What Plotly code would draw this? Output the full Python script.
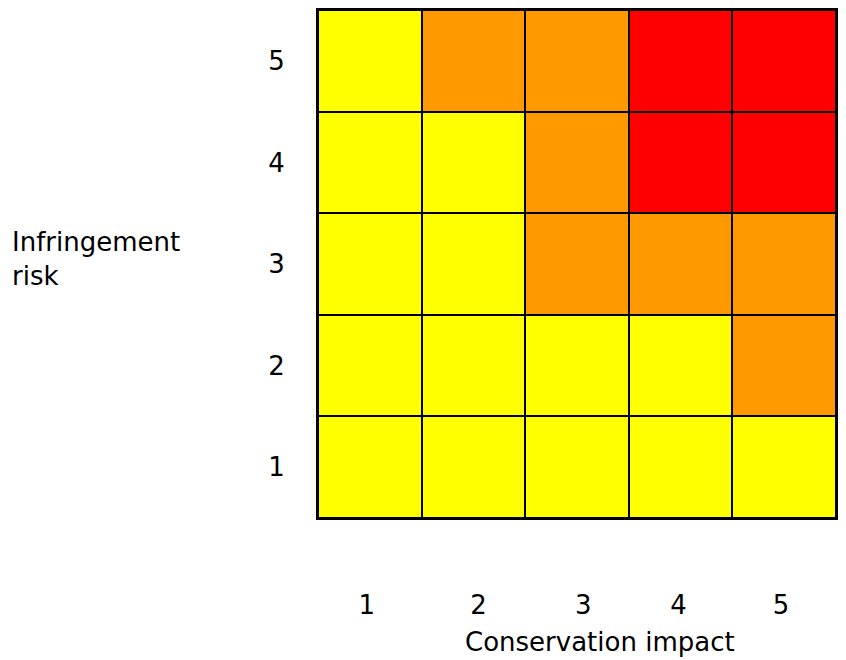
import plotly.graph_objects as go

impact_labels = ["1", "2", "3", "4", "5"]
risk_labels = ["1", "2", "3", "4", "5"]
# risk level per cell: 1 = low (yellow), 2 = medium (orange), 3 = high (red)
# rows: infringement risk 1..5 (bottom to top); columns: conservation impact 1..5
levels = [
    [1, 1, 1, 1, 1],
    [1, 1, 1, 1, 2],
    [1, 1, 2, 2, 2],
    [1, 1, 2, 3, 3],
    [1, 2, 2, 3, 3],
]
level_colors = ["#FFFF00", "#FF9900", "#FF0000"]

x_title = "Conservation impact"
y_title = "Infringement<br>risk"

FONT = "DejaVu Sans"
FS = 26

colorscale = [
    [0.0, level_colors[0]], [1/3, level_colors[0]],
    [1/3, level_colors[1]], [2/3, level_colors[1]],
    [2/3, level_colors[2]], [1.0, level_colors[2]],
]

fig = go.Figure(go.Heatmap(
    z=levels,
    x=[1, 2, 3, 4, 5],
    y=[1, 2, 3, 4, 5],
    zmin=0.5, zmax=3.5,
    colorscale=colorscale,
    showscale=False,
    xgap=2, ygap=2,
    hoverinfo="skip",
))

fig.update_layout(
    width=830, height=652,
    margin=dict(l=310, r=2, t=0, b=142),
    paper_bgcolor="white",
    plot_bgcolor="black",
    font=dict(family=FONT, size=FS, color="black"),
    xaxis=dict(
        range=[0.5, 5.5], tickvals=[0.97, 2.05, 3.06, 3.98, 4.97], ticktext=impact_labels,
        showgrid=False, zeroline=False, showline=True, linecolor="black", linewidth=2,
        mirror=True, ticks="", ticklabelstandoff=63, fixedrange=True,
    ),
    yaxis=dict(
        range=[0.5, 5.5], tickvals=[1, 2, 3, 4, 5], ticktext=risk_labels,
        showgrid=False, zeroline=False, showline=True, linecolor="black", linewidth=2,
        mirror=True, ticks="", ticklabelstandoff=26, fixedrange=True,
    ),
    annotations=[
        dict(text=y_title, xref="paper", yref="paper",
             x=-0.595, y=0.51, xanchor="left", yanchor="middle", align="left",
             showarrow=False, font=dict(family=FONT, size=FS)),
        dict(text=x_title, xref="paper", yref="paper",
             x=0.544, y=-0.244, xanchor="center", yanchor="middle",
             showarrow=False, font=dict(family=FONT, size=FS)),
    ],
)

fig.write_html("out.html")
